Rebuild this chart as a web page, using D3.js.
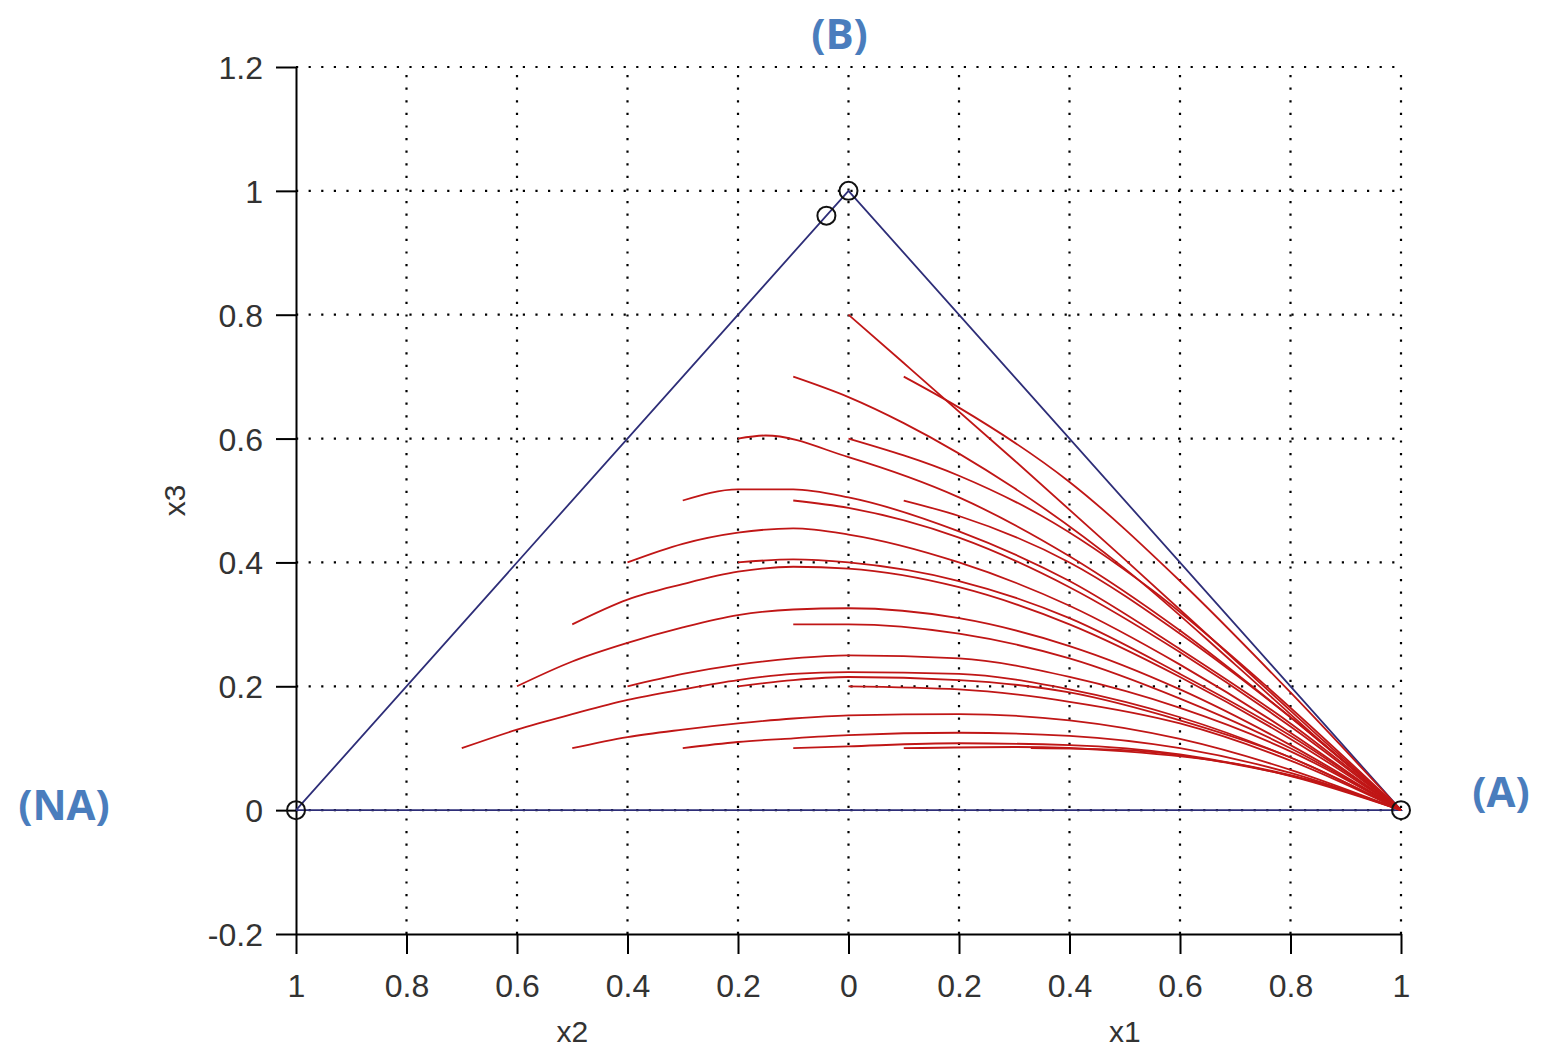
<!DOCTYPE html>
<head>
	<script src="https://d3js.org/d3.v7.min.js"></script>
	<style>
		body {
			margin: 0;
			background: #fff;
		}
		.tick text {
			font-family: "Liberation Sans", Arial, sans-serif;
			font-size: 32px;
			fill: #333;
		}
		.axlabel {
			font-family: "Liberation Sans", Arial, sans-serif;
			font-size: 30px;
			fill: #333;
		}
		.corner {
			font-family: "Open Sans", sans-serif;
			font-weight: bold;
			font-size: 42px;
			fill: #4a7dbd;
		}
	</style>
</head>
<body>
	<script>
		// tick values
		var xTicks = [-1, -0.8, -0.6, -0.4, -0.2, 0, 0.2, 0.4, 0.6, 0.8, 1];
		var yTicks = [-0.2, 0, 0.2, 0.4, 0.6, 0.8, 1, 1.2];

		// simplex corners and equilibrium markers
		var simplex = [[-1, 0], [0, 1], [1, 0], [-1, 0]];
		var markers = [[-1, 0], [1, 0], [0, 1], [-0.04, 0.96]];
		var corners = [
			{ label: "(B)", x: 0, y: 1.2 },
			{ label: "(NA)", x: -1, y: 0 },
			{ label: "(A)", x: 1, y: 0 }
		];

		// trajectories as [x, x3]
		var traj01 = [[0, 0.80], [0.1, 0.722], [0.3, 0.565], [0.5, 0.405], [0.7, 0.242], [0.85, 0.12], [1, 0]];
		var traj02 = [[0.1, 0.70], [0.2, 0.65], [0.4, 0.53], [0.6, 0.37], [0.8, 0.19], [1, 0]];
		var traj03 = [[-0.1, 0.70], [0, 0.667], [0.1, 0.625], [0.3, 0.52], [0.5, 0.39], [0.7, 0.235], [0.85, 0.115], [1, 0]];
		var traj04 = [[0, 0.60], [0.2, 0.54], [0.35, 0.475], [0.55, 0.355], [0.75, 0.205], [1, 0]];
		var traj05 = [[-0.2, 0.60], [-0.15, 0.605], [0, 0.57], [0.2, 0.505], [0.4, 0.41], [0.6, 0.29], [0.8, 0.15], [1, 0]];
		var traj06 = [[-0.3, 0.50], [-0.2, 0.518], [-0.1, 0.518], [0, 0.505], [0.2, 0.45], [0.4, 0.37], [0.6, 0.26], [0.8, 0.14], [1, 0]];
		var traj07 = [[-0.1, 0.50], [0, 0.488], [0.2, 0.44], [0.4, 0.36], [0.6, 0.255], [0.8, 0.135], [1, 0]];
		var traj08 = [[0.1, 0.50], [0.2, 0.475], [0.4, 0.40], [0.6, 0.285], [0.8, 0.15], [1, 0]];
		var traj09 = [[-0.4, 0.40], [-0.3, 0.43], [-0.2, 0.448], [-0.1, 0.455], [0, 0.445], [0.2, 0.40], [0.4, 0.33], [0.6, 0.235], [0.8, 0.125], [1, 0]];
		var traj10 = [[-0.2, 0.40], [-0.1, 0.405], [0, 0.40], [0.2, 0.37], [0.4, 0.31], [0.6, 0.22], [0.8, 0.12], [1, 0]];
		var traj11 = [[-0.5, 0.30], [-0.4, 0.34], [-0.3, 0.365], [-0.2, 0.385], [-0.1, 0.393], [0, 0.39], [0.2, 0.36], [0.4, 0.30], [0.6, 0.215], [0.8, 0.115], [1, 0]];
		var traj12 = [[-0.6, 0.20], [-0.5, 0.24], [-0.4, 0.27], [-0.3, 0.295], [-0.2, 0.315], [-0.1, 0.324], [0, 0.326], [0.2, 0.31], [0.4, 0.265], [0.6, 0.195], [0.8, 0.105], [1, 0]];
		var traj13 = [[-0.1, 0.30], [0, 0.30], [0.2, 0.285], [0.4, 0.245], [0.6, 0.18], [0.8, 0.10], [1, 0]];
		var traj14 = [[-0.4, 0.20], [-0.3, 0.22], [-0.2, 0.235], [-0.1, 0.245], [0, 0.25], [0.2, 0.245], [0.4, 0.215], [0.6, 0.165], [0.8, 0.095], [1, 0]];
		var traj15 = [[-0.7, 0.10], [-0.6, 0.13], [-0.5, 0.155], [-0.4, 0.178], [-0.3, 0.195], [-0.2, 0.21], [-0.1, 0.22], [0, 0.223], [0.2, 0.22], [0.4, 0.195], [0.6, 0.15], [0.8, 0.085], [1, 0]];
		var traj16 = [[-0.2, 0.20], [-0.1, 0.21], [0, 0.215], [0.2, 0.21], [0.4, 0.19], [0.6, 0.145], [0.8, 0.085], [1, 0]];
		var traj17 = [[0, 0.20], [0.2, 0.195], [0.4, 0.175], [0.6, 0.14], [0.8, 0.08], [1, 0]];
		var traj18 = [[-0.5, 0.10], [-0.4, 0.118], [-0.3, 0.13], [-0.2, 0.14], [-0.1, 0.148], [0, 0.153], [0.2, 0.155], [0.4, 0.145], [0.6, 0.115], [0.8, 0.065], [1, 0]];
		var traj19 = [[-0.3, 0.10], [-0.2, 0.11], [-0.1, 0.116], [0, 0.121], [0.2, 0.125], [0.4, 0.12], [0.6, 0.10], [0.8, 0.06], [1, 0]];
		var traj20 = [[-0.1, 0.10], [0, 0.103], [0.2, 0.108], [0.4, 0.105], [0.6, 0.09], [0.8, 0.055], [1, 0]];
		var traj21 = [[0.1, 0.10], [0.3, 0.102], [0.5, 0.095], [0.7, 0.075], [0.85, 0.045], [1, 0]];
		var traj22 = [[0.33, 0.10], [0.5, 0.097], [0.7, 0.074], [0.85, 0.044], [1, 0]];

		var trajectories = [traj01, traj02, traj03, traj04, traj05, traj06, traj07, traj08, traj09, traj10, traj11,
			traj12, traj13, traj14, traj15, traj16, traj17, traj18, traj19, traj20, traj21, traj22];

		var width = 1544, height = 1047;

		var x = d3.scaleLinear().domain([-1, 1]).range([296, 1401]);
		var y = d3.scaleLinear().domain([-0.2, 1.2]).range([934, 67]);

		var svg = d3.select("body").append("svg")
			.attr("width", width)
			.attr("height", height);

		// dotted grid
		var grid = svg.append("g").attr("stroke", "#000").attr("stroke-width", 2.2)
			.attr("stroke-dasharray", "2.2,10.4");
		grid.selectAll("line.v")
			.data(xTicks.filter(d => d > -1))
			.enter().append("line")
			.attr("x1", d => x(d)).attr("x2", d => x(d))
			.attr("y1", y(-0.2)).attr("y2", y(1.2));
		grid.selectAll("line.h")
			.data(yTicks.filter(d => d > -0.2))
			.enter().append("line")
			.attr("x1", x(-1)).attr("x2", x(1))
			.attr("y1", d => y(d)).attr("y2", d => y(d));

		// axes
		var xAxis = d3.axisBottom(x)
			.tickValues(xTicks)
			.tickSize(20)
			.tickSizeOuter(0)
			.tickPadding(20)
			.tickFormat(d => String(Math.abs(+d.toFixed(1))));
		var yAxis = d3.axisLeft(y)
			.tickValues(yTicks)
			.tickSize(20)
			.tickSizeOuter(0)
			.tickPadding(13)
			.tickFormat(d => String(+d.toFixed(1)));

		svg.append("g")
			.attr("transform", "translate(0," + y(-0.2) + ")")
			.call(xAxis)
			.call(g => g.selectAll("path, line").attr("stroke", "#000").attr("stroke-width", 2));
		svg.append("g")
			.attr("transform", "translate(" + x(-1) + ",0)")
			.call(yAxis)
			.call(g => g.selectAll("path, line").attr("stroke", "#000").attr("stroke-width", 2))
			.call(g => g.selectAll("text").attr("dy", "0.36em"));

		svg.append("text").attr("class", "axlabel")
			.attr("x", x(-0.5)).attr("y", 1042)
			.attr("text-anchor", "middle").text("x2");
		svg.append("text").attr("class", "axlabel")
			.attr("x", x(0.5)).attr("y", 1042)
			.attr("text-anchor", "middle").text("x1");
		svg.append("text").attr("class", "axlabel")
			.attr("transform", "translate(185," + y(0.5) + ") rotate(-90)")
			.attr("text-anchor", "middle").text("x3");

		// simplex edges
		svg.append("path")
			.datum(simplex)
			.attr("fill", "none")
			.attr("stroke", "#2e2e78")
			.attr("stroke-width", 1.8)
			.attr("d", d3.line().x(d => x(d[0])).y(d => y(d[1])));

		// trajectories
		var line = d3.line()
			.x(d => x(d[0]))
			.y(d => y(d[1]))
			.curve(d3.curveMonotoneX);
		svg.append("g").selectAll("path")
			.data(trajectories)
			.enter().append("path")
			.attr("fill", "none")
			.attr("stroke", "#c01616")
			.attr("stroke-width", 1.8)
			.attr("d", line);

		// equilibria
		svg.append("g").selectAll("circle")
			.data(markers)
			.enter().append("circle")
			.attr("cx", d => x(d[0]))
			.attr("cy", d => y(d[1]))
			.attr("r", 9)
			.attr("fill", "none")
			.attr("stroke", "#111")
			.attr("stroke-width", 2);

		// corner labels
		var cornerPos = { "(B)": [-9, -18], "(NA)": [-232, 10], "(A)": [100, -3] };
		svg.append("g").selectAll("text")
			.data(corners)
			.enter().append("text")
			.attr("class", "corner")
			.attr("text-anchor", "middle")
			.attr("x", d => x(d.x) + cornerPos[d.label][0])
			.attr("y", d => y(d.y) + cornerPos[d.label][1])
			.text(d => d.label);
	</script>
</body>
</html>
